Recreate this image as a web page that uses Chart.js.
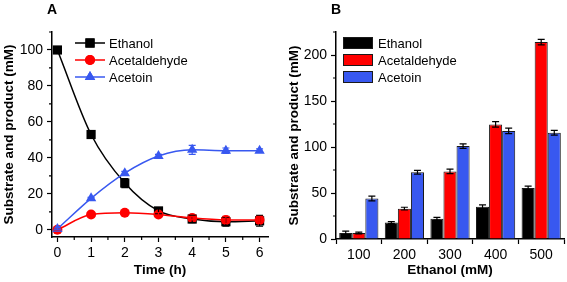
<!DOCTYPE html>
<html>
<head>
<meta charset="utf-8">
<script src="https://cdn.jsdelivr.net/npm/chart.js@4.4.1/dist/chart.umd.min.js"></script>
<style>
  body { margin: 0; background: #fff; }
  #wrap { position: relative; width: 567px; height: 282px; }
  .panel { position: absolute; top: 0; height: 282px; }
  #pA { left: 0; width: 285px; }
  #pB { left: 285px; width: 282px; }
</style>
</head>
<body>
<div id="wrap">
  <div class="panel" id="pA"><canvas id="chartA"></canvas></div>
  <div class="panel" id="pB"><canvas id="chartB"></canvas></div>
</div>
<script>
// Panel A: time course
const hours = [0, 1, 2, 3, 4, 5, 6];
const ethanolA = [100, 53, 26, 10.5, 6, 4.5, 5];
const ethanolAErr = [1, 2, 2.5, 1.5, 2, 2.5, 3];
const acetaldehydeA = [0, 8.5, 9.5, 8.5, 6.5, 5.5, 5.5];
const acetaldehydeAErr = [0.5, 1, 1, 1, 1, 2, 2];
const acetoinA = [0.5, 17.5, 31.5, 41, 44.5, 44, 44];
const acetoinAErr = [0.5, 0.5, 1, 1, 2.5, 1.5, 1];

// Panel B: ethanol concentration
const concentrations = ["100", "200", "300", "400", "500"];
const ethanolB = [6.5, 18, 22, 35, 55.5];
const ethanolBErr = [2, 1, 1.5, 2, 2];
const acetaldehydeB = [6.5, 33, 73.5, 124.5, 214];
const acetaldehydeBErr = [1, 1.5, 2.5, 3, 3];
const acetoinB = [44, 72.5, 101, 117.5, 115.5];
const acetoinBErr = [2.5, 2, 2.5, 3, 2.5];

const FONT = "'Liberation Sans', Arial, sans-serif";
const BLACK = "#000000";
const RED = "#ff0000";
const BLUE = "#3858f0";

Chart.defaults.font.family = FONT;
Chart.defaults.color = "#000";
Chart.defaults.animation = false;

const toXY = (ys) => ys.map((y, i) => ({ x: hours[i], y }));

// error bars, drawn from each dataset's errorBars array
const errorBarPlugin = {
  id: "errorBars",
  afterDatasetsDraw(chart) {
    const ctx = chart.ctx;
    chart.data.datasets.forEach((ds, i) => {
      if (!ds.errorBars) return;
      const meta = chart.getDatasetMeta(i);
      const yScale = chart.scales[meta.yAxisID];
      ctx.save();
      ctx.strokeStyle = ds.errorColor || ds.borderColor;
      ctx.lineWidth = 1.2;
      meta.data.forEach((el, j) => {
        const raw = ds.data[j];
        const v = typeof raw === "object" ? raw.y : raw;
        const e = ds.errorBars[j];
        const yt = yScale.getPixelForValue(v + e);
        const yb = yScale.getPixelForValue(v - e);
        const cap = 3.5;
        ctx.beginPath();
        ctx.moveTo(el.x, yt); ctx.lineTo(el.x, yb);
        ctx.moveTo(el.x - cap, yt); ctx.lineTo(el.x + cap, yt);
        ctx.moveTo(el.x - cap, yb); ctx.lineTo(el.x + cap, yb);
        ctx.stroke();
      });
      ctx.restore();
    });
  },
};

// minor ticks halfway between major ones (Origin style)
const minorTickPlugin = {
  id: "minorTicks",
  afterDraw(chart, args, opts) {
    const ctx = chart.ctx;
    ctx.save();
    ctx.strokeStyle = "#000";
    ctx.lineWidth = 1.2;
    (opts.scales || []).forEach(({ id, step, from, to }) => {
      const s = chart.scales[id];
      ctx.beginPath();
      for (let v = from; v <= to + 1e-9; v += step) {
        const p = s.getPixelForValue(v);
        if (s.isHorizontal()) {
          ctx.moveTo(p, s.top); ctx.lineTo(p, s.top + 3);
        } else {
          ctx.moveTo(s.right, p); ctx.lineTo(s.right - 3, p);
        }
      }
      ctx.stroke();
    });
    ctx.restore();
  },
};

// panel letter + legend drawn inside the plot frame
const panelLegendPlugin = {
  id: "panelLegend",
  afterDraw(chart, args, opts) {
    const ctx = chart.ctx;
    const area = chart.chartArea;
    ctx.save();
    ctx.fillStyle = "#000";
    ctx.font = "bold 14px " + FONT;
    ctx.textBaseline = "middle";
    ctx.textAlign = "left";
    ctx.fillText(opts.letter, opts.letterX, 10);

    ctx.font = "13px " + FONT;
    chart.data.datasets.forEach((ds, i) => {
      const y = area.top + 11 + i * 17;
      const x0 = area.left + opts.dx;
      if (opts.kind === "line") {
        ctx.strokeStyle = ds.borderColor;
        ctx.lineWidth = 1.5;
        ctx.beginPath();
        ctx.moveTo(x0, y); ctx.lineTo(x0 + 30, y);
        ctx.stroke();
        ctx.fillStyle = ds.pointBackgroundColor;
        Chart.helpers.drawPoint(ctx, {
          pointStyle: ds.pointStyle, radius: ds.pointRadius, rotation: 0, borderWidth: 0,
        }, x0 + 15, y);
        ctx.fill();
      } else {
        ctx.fillStyle = ds.backgroundColor;
        ctx.fillRect(x0, y - 6, 30, 12);
        ctx.strokeStyle = ds.borderColor;
        ctx.lineWidth = 1;
        ctx.strokeRect(x0 + 0.5, y - 5.5, 29, 11);
      }
      ctx.fillStyle = "#000";
      ctx.fillText(ds.label, x0 + opts.textGap, y + 1);
    });
    ctx.restore();
  },
};

const axisBase = {
  border: { color: "#000", width: 1.5 },
  grid: { drawOnChartArea: false, tickLength: 5, tickColor: "#000", tickWidth: 1.2 },
};

function lineSet(label, ys, errs, color, style, radius, order) {
  return {
    label,
    data: toXY(ys),
    errorBars: errs,
    borderColor: color,
    backgroundColor: color,
    pointBackgroundColor: color,
    pointBorderColor: color,
    pointBorderWidth: 0,
    pointStyle: style,
    pointRadius: radius,
    borderWidth: 1.5,
    cubicInterpolationMode: "monotone",
    order,
  };
}

new Chart(document.getElementById("chartA"), {
  type: "line",
  data: {
    datasets: [
      lineSet("Ethanol", ethanolA, ethanolAErr, BLACK, "rect", 6.5, 3),
      lineSet("Acetaldehyde", acetaldehydeA, acetaldehydeAErr, RED, "circle", 5, 2),
      lineSet("Acetoin", acetoinA, acetoinAErr, BLUE, "triangle", 6, 1),
    ],
  },
  options: {
    responsive: true,
    maintainAspectRatio: false,
    layout: { padding: { top: 32, right: 17, left: 0, bottom: 0 } },
    plugins: {
      legend: { display: false },
      tooltip: { enabled: false },
      minorTicks: { scales: [
        { id: "x", step: 1, from: 0.5, to: 5.5 },
        { id: "y", step: 20, from: 10, to: 110 },
      ] },
      panelLegend: { letter: "A", letterX: 47, kind: "line", dx: 23, textGap: 34 },
    },
    scales: {
      x: {
        ...axisBase,
        type: "linear",
        min: -0.16,
        max: 6.25,
        afterFit: (s) => { s.height = 45; },
        ticks: { stepSize: 1, includeBounds: false, font: { size: 14 }, padding: 3 },
        title: { display: true, text: "Time (h)", font: { size: 13.5, weight: "bold" }, padding: { top: 1 } },
      },
      y: {
        ...axisBase,
        min: -4,
        max: 110,
        afterFit: (s) => { s.width = 52; },
        ticks: { stepSize: 20, includeBounds: false, font: { size: 14 }, padding: 4 },
        title: { display: true, text: "Substrate and product (mM)", font: { size: 13.5, weight: "bold" }, padding: { top: 1 } },
      },
    },
  },
  plugins: [errorBarPlugin, minorTickPlugin, panelLegendPlugin],
});

function barSet(label, values, errs, color) {
  return {
    label,
    data: values,
    errorBars: errs,
    errorColor: "#000",
    backgroundColor: color,
    borderColor: "#1a1a1a",
    borderWidth: 1,
    barPercentage: 1,
    categoryPercentage: 0.86,
  };
}

new Chart(document.getElementById("chartB"), {
  type: "bar",
  data: {
    labels: concentrations,
    datasets: [
      barSet("Ethanol", ethanolB, ethanolBErr, "#000000"),
      barSet("Acetaldehyde", acetaldehydeB, acetaldehydeBErr, RED),
      barSet("Acetoin", acetoinB, acetoinBErr, BLUE),
    ],
  },
  options: {
    responsive: true,
    maintainAspectRatio: false,
    layout: { padding: { top: 32, right: 3, left: 0, bottom: 0 } },
    plugins: {
      legend: { display: false },
      tooltip: { enabled: false },
      minorTicks: { scales: [{ id: "y", step: 50, from: 25, to: 225 }] },
      panelLegend: { letter: "B", letterX: 46, kind: "bar", dx: 7, textGap: 35 },
    },
    scales: {
      x: {
        ...axisBase,
        afterFit: (s) => { s.height = 43; },
        ticks: { font: { size: 14 }, padding: 3 },
        title: { display: true, text: "Ethanol (mM)", font: { size: 13.5, weight: "bold" }, padding: { top: 1 } },
      },
      y: {
        ...axisBase,
        min: 0,
        max: 225,
        afterFit: (s) => { s.width = 51; },
        ticks: { stepSize: 50, includeBounds: false, font: { size: 14 }, padding: 4 },
        title: { display: true, text: "Substrate and product (mM)", font: { size: 13.5, weight: "bold" }, padding: { top: 1 } },
      },
    },
  },
  plugins: [errorBarPlugin, minorTickPlugin, panelLegendPlugin],
});
</script>
</body>
</html>
